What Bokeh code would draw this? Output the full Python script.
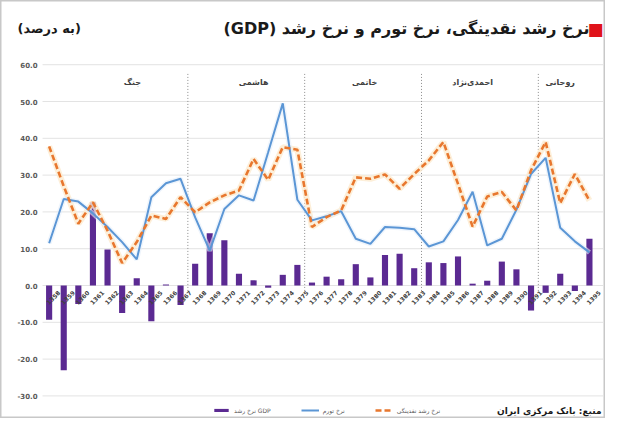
import numpy as np
from bokeh.plotting import figure
from bokeh.models import Range1d, Label, Legend, LegendItem, ColumnDataSource
from bokeh.core.properties import value
from bokeh.embed import file_html
from bokeh.resources import INLINE

# ---------------- data ----------------
years = ["1358", "1359", "1360", "1361", "1362", "1363", "1364", "1365", "1366", "1367",
         "1368", "1369", "1370", "1371", "1372", "1373", "1374", "1375",
         "1376", "1377", "1378", "1379", "1380", "1381", "1382", "1383",
         "1384", "1385", "1386", "1387", "1388", "1389", "1390", "1391",
         "1392", "1393", "1394", "1395"]
gdp_growth = [-9.3, -23.0, -5.0, 22.6, 9.8, -7.5, 2.0, -9.7, 0.3, -5.3,
              5.9, 14.2, 12.3, 3.2, 1.4, -0.6, 2.9, 5.6,
              0.8, 2.4, 1.7, 5.8, 2.2, 8.3, 8.6, 4.7,
              6.3, 6.1, 7.9, 0.5, 1.3, 6.5, 4.4, -6.8,
              -2.0, 3.2, -1.5, 12.7]
inflation = [11.5, 23.5, 22.8, 19.6, 15.9, 11.8, 7.1, 24.0, 27.8, 29.0,
             18.5, 9.5, 20.8, 24.5, 23.1, 36.2, 49.5, 23.3,
             17.7, 18.8, 20.2, 12.7, 11.3, 15.9, 15.7, 15.3,
             10.6, 12.0, 17.8, 25.5, 10.9, 12.7, 20.6, 30.3,
             34.7, 15.7, 12.0, 9.0]
liquidity_growth = [37.8, 27.0, 16.8, 22.6, 14.9, 6.1, 11.8, 19.0, 18.1, 24.0,
                    19.9, 22.6, 24.5, 25.8, 34.4, 28.7, 37.6, 36.9,
                    15.9, 18.6, 20.4, 29.4, 29.0, 30.2, 26.3, 30.3,
                    34.0, 39.0, 27.6, 16.0, 24.2, 25.4, 20.4, 31.3,
                    39.0, 22.4, 30.3, 23.1]
y_ticks = [-30, -20, -10, 0, 10, 20, 30, 40, 50, 60]
y_tick_labels = ["-30.0", "-20.0", "-10.0", "0.0", "10.0", "20.0", "30.0", "40.0", "50.0", "60.0"]
eras = ["جنگ", "هاشمی", "خاتمی", "احمدی‌نژاد", "روحانی"]
era_first_year = ["1358", "1368", "1376", "1384", "1392"]
era_last_year = ["1367", "1375", "1383", "1391", "1395"]

title_text = "(GDP) نرخ رشد نقدینگی، نرخ تورم و نرخ رشد"
unit_text = "(به درصد)"
source_text = "منبع: بانک مرکزی ایران"
legend_labels = ["نرخ رشد GDP", "نرخ تورم", "نرخ رشد نقدینگی"]

# ---------------- styles / layout ----------------
PURPLE = "#5B2A92"
BLUE = "#5B96D5"
ORANGE = "#E8772E"
GRID = "#E3E3E3"
TXT = "#595959"
FA = "DejaVu Sans"
era_label_nudge = [1.2, 0.5, 0.1, -0.5, -0.5]
W, H = 605, 418
X0, X1 = -3.33, 38.1           # x range covering the whole canvas
Y0, Y1 = -36.14, 77.45         # y range covering the whole canvas
GRID_X0, GRID_X1 = -0.45, 38.0  # horizontal extent of the value area

idx = np.arange(len(years))
src = ColumnDataSource(dict(x=idx, year=years, gdp=gdp_growth, inf=inflation, liq=liquidity_growth))

p = figure(width=W, height=H, output_backend="svg", toolbar_location=None,
           x_range=Range1d(X0, X1), y_range=Range1d(Y0, Y1),
           min_border=0, x_axis_location=None, y_axis_location=None)
p.grid.visible = False
p.outline_line_color = "#C8C8C8"
p.outline_line_width = 2
p.background_fill_color = "white"
p.border_fill_color = "white"

# value grid and its labels
p.segment(x0=[GRID_X0] * len(y_ticks), x1=[GRID_X1] * len(y_ticks), y0=y_ticks, y1=y_ticks,
          line_color=GRID, line_width=1)
p.text(x=[GRID_X0] * len(y_ticks), y=y_ticks, text=y_tick_labels, x_offset=-5,
       text_font=value("DejaVu Sans"), text_font_size="7px", text_font_style="bold",
       text_color=TXT, text_align="right", text_baseline="middle")

# era dividers (between last year of one era and first of next)
div_x = [years.index(first) - 0.5 for first in era_first_year[1:]]
p.segment(x0=div_x, x1=div_x, y0=[57.5] * len(div_x), y1=[-2.0] * len(div_x),
          line_color="#8C8C8C", line_width=1, line_dash="1 2")

# era labels over each era span
era_x = [(years.index(a) + years.index(b)) / 2.0 + n
         for a, b, n in zip(era_first_year, era_last_year, era_label_nudge)]
p.text(x=era_x, y=[55.2] * len(eras), text=eras, text_font=value(FA), text_font_size="8px",
       text_font_style="bold", text_color="#404040", text_align="center", text_baseline="middle")

bars = p.vbar(x="x", top="gdp", width=0.42, source=src, fill_color=PURPLE, line_color=None)

# soft halos
p.line(x="x", y="liq", source=src, line_color="#FDEBCF", line_width=6, line_alpha=0.8)
p.line(x="x", y="inf", source=src, line_color="#E4EEFA", line_width=5, line_alpha=0.6)
l_inf = p.line(x="x", y="inf", source=src, line_color=BLUE, line_width=2)
l_liq = p.line(x="x", y="liq", source=src, line_color=ORANGE, line_width=2.6, line_dash="6 3")

# year labels under the zero line
p.text(x="x", y=0, text="year", source=src, angle=np.pi / 4, text_font=value("DejaVu Sans"),
       text_font_size="6px", text_font_style="bold", text_color="#404040",
       text_align="center", text_baseline="middle", x_offset=4, y_offset=12)

# titles (frame == canvas; screen y measured from the bottom)
p.add_layout(Label(x=589, y=H - 28, x_units="screen", y_units="screen", text=title_text,
                   text_font=FA, text_font_size="16px", text_font_style="bold",
                   text_color="#1a1a1a", text_align="right", text_baseline="middle"))
p.add_layout(Label(x=603, y=H - 28, x_units="screen", y_units="screen", text="■",
                   text_font="DejaVu Sans", text_font_size="17px", text_color="#E0131A",
                   text_align="right", text_baseline="middle"))
p.add_layout(Label(x=17, y=H - 28, x_units="screen", y_units="screen", text=unit_text,
                   text_font=FA, text_font_size="13px", text_font_style="bold",
                   text_color="#1a1a1a", text_align="left", text_baseline="middle"))
p.add_layout(Label(x=601, y=8, x_units="screen", y_units="screen", text=source_text,
                   text_font=FA, text_font_size="9px", text_font_style="bold",
                   text_color="#1a1a1a", text_align="right", text_baseline="middle"))

legend = Legend(items=[LegendItem(label=legend_labels[0], renderers=[bars]),
                       LegendItem(label=legend_labels[1], renderers=[l_inf]),
                       LegendItem(label=legend_labels[2], renderers=[l_liq])],
                orientation="horizontal", location=(212, 4), glyph_width=18, glyph_height=4,
                label_text_font_size="6px", label_text_font=FA, label_text_color=TXT,
                background_fill_alpha=0, border_line_color=None, spacing=30, padding=2,
                margin=0, label_standoff=4, label_height=8)
p.add_layout(legend, "center")

open("out.html", "w").write(file_html(p, INLINE))
